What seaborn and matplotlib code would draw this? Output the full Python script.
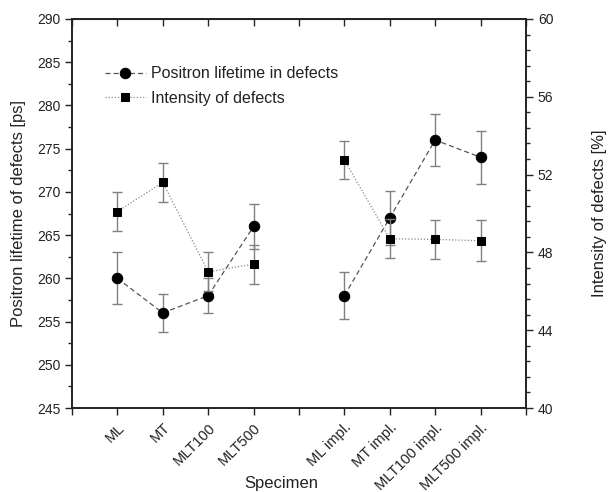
import matplotlib
matplotlib.use("Agg")
import matplotlib.pyplot as plt
from matplotlib.ticker import MultipleLocator
import seaborn as sns
import pandas as pd

specimens = ["ML", "MT", "MLT100", "MLT500",
             "ML impl.", "MT impl.", "MLT100 impl.", "MLT500 impl."]
group = ["plain"] * 4 + ["impl"] * 4
lifetime = [260, 256, 258, 266, 258, 267, 276, 274]
lifetime_err = [3.0, 2.2, 2.0, 2.6, 2.75, 3.1, 3.0, 3.1]
intensity = [50.1, 51.6, 47.0, 47.4, 52.75, 48.7, 48.67, 48.6]
intensity_err = [1.0, 1.0, 1.0, 1.0, 0.96, 1.0, 1.0, 1.05]

# two groups of four with an empty slot between them
xpos = [i + 1 if i < 4 else i + 2 for i in range(len(specimens))]
df = pd.DataFrame({"x": xpos, "group": group, "lifetime": lifetime,
                   "lt_err": lifetime_err, "intensity": intensity,
                   "in_err": intensity_err})

sns.set_style("ticks")
plt.rcParams["font.family"] = ["Liberation Sans", "DejaVu Sans"]
txt = "#222222"

fig = plt.figure(figsize=(6.08, 4.92), dpi=100)
ax = fig.add_axes([0.1184, 0.1707, 0.7467, 0.7907])
ax2 = ax.twinx()

ax.errorbar(df["x"], df["lifetime"], yerr=df["lt_err"], fmt="none",
            ecolor="#808080", elinewidth=1.0, capsize=3.8, capthick=1.0, zorder=2)
sns.lineplot(data=df, x="x", y="lifetime", units="group", estimator=None,
             ax=ax, color="#555555", linestyle=(0, (4, 2.5)), linewidth=0.9,
             marker="o", markersize=7.5, markerfacecolor="black",
             markeredgecolor="black", label="Positron lifetime in defects",
             legend=False, zorder=3)

ax2.errorbar(df["x"], df["intensity"], yerr=df["in_err"], fmt="none",
             ecolor="#808080", elinewidth=1.0, capsize=3.8, capthick=1.0, zorder=2)
sns.lineplot(data=df, x="x", y="intensity", units="group", estimator=None,
             ax=ax2, color="#8a8a8a", linestyle=(0, (1, 1.5)), linewidth=0.9,
             marker="s", markersize=6, markerfacecolor="black",
             markeredgecolor="black", label="Intensity of defects",
             legend=False, zorder=3)

ax.set_xlim(0, 10)
ax.set_ylim(245, 290)
ax2.set_ylim(40, 60)

ax.set_xticks(range(0, 11))
labels = [""] * 11
for p, s in zip(xpos, specimens):
    labels[p] = s
ax.set_xticklabels(labels, rotation=45, ha="right", rotation_mode="anchor",
                   fontsize=10.5, color=txt)

ax.yaxis.set_major_locator(MultipleLocator(5))
ax.yaxis.set_minor_locator(MultipleLocator(2.5))
ax2.yaxis.set_major_locator(MultipleLocator(4))
ax2.yaxis.set_minor_locator(MultipleLocator(0.8))

ax.tick_params(axis="both", which="major", direction="out", length=5,
               width=1, labelsize=10, labelcolor=txt, color="#222222")
ax.tick_params(axis="x", which="major", labelsize=10.5, pad=4)
ax.tick_params(axis="y", which="minor", direction="out", length=3, width=1)
ax2.tick_params(axis="y", which="major", direction="out", length=5, width=1,
                labelsize=10, labelcolor=txt)
ax2.tick_params(axis="y", which="minor", direction="out", length=3, width=1)

top = ax.secondary_xaxis("top")
top.set_xticks(range(0, 11))
top.tick_params(direction="in", length=5, width=1, labeltop=False)

for a in (ax, ax2):
    for sp in a.spines.values():
        sp.set_visible(True)
        sp.set_linewidth(1.2)
        sp.set_color("#222222")

ax.set_xlabel("Specimen", fontsize=12, color=txt)
ax.xaxis.label.set_va("center")
ax.xaxis.set_label_coords(0.46, -0.193)
ax.set_ylabel("Positron lifetime of defects [ps]", fontsize=12, color=txt, labelpad=8)
ax2.set_ylabel("Intensity of defects [%]", fontsize=12, color=txt, labelpad=28)

h1, l1 = ax.get_legend_handles_labels()
h2, l2 = ax2.get_legend_handles_labels()
ax.legend([h1[0], h2[0]], [l1[0], l2[0]], loc="upper left",
          bbox_to_anchor=(0.04, 0.915), frameon=False, fontsize=11.5,
          handlelength=2.6, handletextpad=0.3, labelcolor=txt, labelspacing=0.6)

fig.savefig("out.png", dpi=100)
